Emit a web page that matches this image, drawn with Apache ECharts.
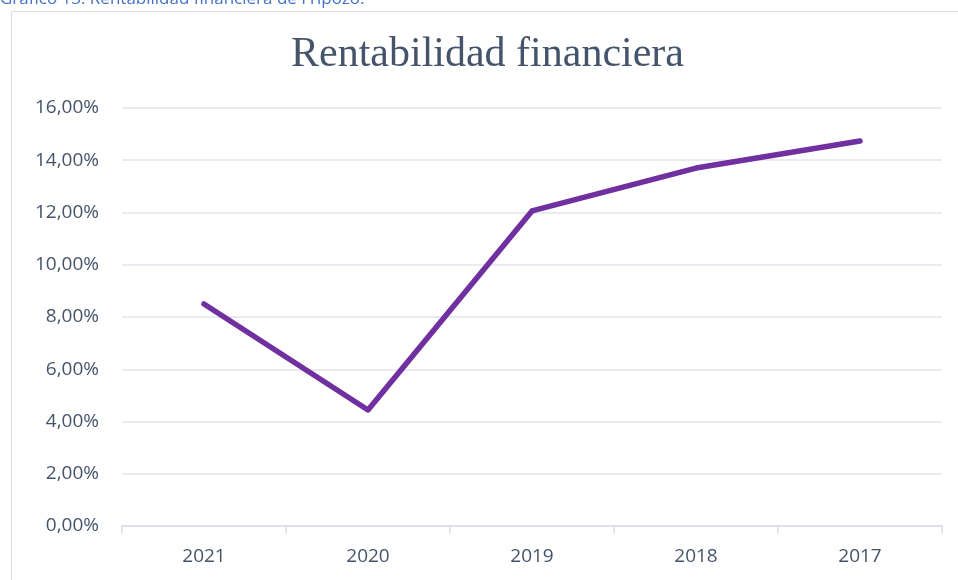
<!DOCTYPE html>
<html>
<head>
<meta charset="utf-8">
<script src="https://cdn.jsdelivr.net/npm/echarts@6/dist/echarts.min.js"></script>
<style>
  html, body { margin: 0; padding: 0; background: #ffffff; }
  #chart { width: 958px; height: 580px; }
</style>
</head>
<body>
<div id="chart"></div>
<script>
// Chart data
const years = ['2021', '2020', '2019', '2018', '2017']
const rentabilidad = [0.085, 0.0444, 0.1206, 0.137, 0.1474]
const yMin = 0
const yMax = 0.16
const yStep = 0.02

const chart = echarts.init(document.getElementById('chart'))

const labelFont = '"Open Sans", "Noto Sans", sans-serif'
const textColor = '#44546a'

const option = {
  backgroundColor: '#ffffff',
  animation: false,
  graphic: [
    {
      // chart frame, runs off right and bottom edges
      type: 'rect',
      shape: { x: 11.5, y: 11.5, width: 1200, height: 1200 },
      style: { fill: 'none', stroke: '#d9dde4', lineWidth: 1 },
    },
    {
      // caption of the document, cut off at the top
      type: 'text',
      left: 0,
      top: -9,
      style: {
        text: 'Gráfico 13: Rentabilidad financiera de Fripozo.',
        font: '17px "Open Sans", sans-serif',
        fill: '#4472c4',
      },
    },
  ],
  title: {
    text: 'Rentabilidad financiera',
    left: 291,
    top: 34,
    padding: 0,
    textStyle: {
      fontFamily: '"Liberation Serif", "DejaVu Serif", serif',
      fontWeight: 'normal',
      fontSize: 42,
      color: '#44546a',
    },
  },
  grid: {
    left: 122,
    right: 16,
    top: 108,
    bottom: 54,
  },
  xAxis: {
    type: 'category',
    data: years,
    boundaryGap: true,
    axisLine: { lineStyle: { color: '#d9dde4', width: 1.5 } },
    axisTick: { show: true, length: 7, lineStyle: { color: '#d9dde4', width: 1.5 } },
    axisLabel: {
      margin: 21,
      fontSize: 19,
      fontFamily: labelFont,
      color: textColor,
    },
  },
  yAxis: {
    type: 'value',
    min: yMin,
    max: yMax,
    interval: yStep,
    axisLine: { show: false },
    axisTick: { show: false },
    splitLine: { lineStyle: { color: '#e1e4ea', width: 1.5 } },
    axisLabel: {
      margin: 23,
      fontSize: 19,
      fontFamily: labelFont,
      color: textColor,
      formatter: (v) => (v * 100).toFixed(2).replace('.', ',') + '%',
    },
  },
  series: [
    {
      name: 'Rentabilidad financiera',
      type: 'line',
      data: rentabilidad,
      symbol: 'none',
      lineStyle: {
        width: 5.5,
        color: '#7030a0',
        cap: 'round',
        join: 'round',
      },
    },
  ],
}

chart.setOption(option)
</script>
</body>
</html>
